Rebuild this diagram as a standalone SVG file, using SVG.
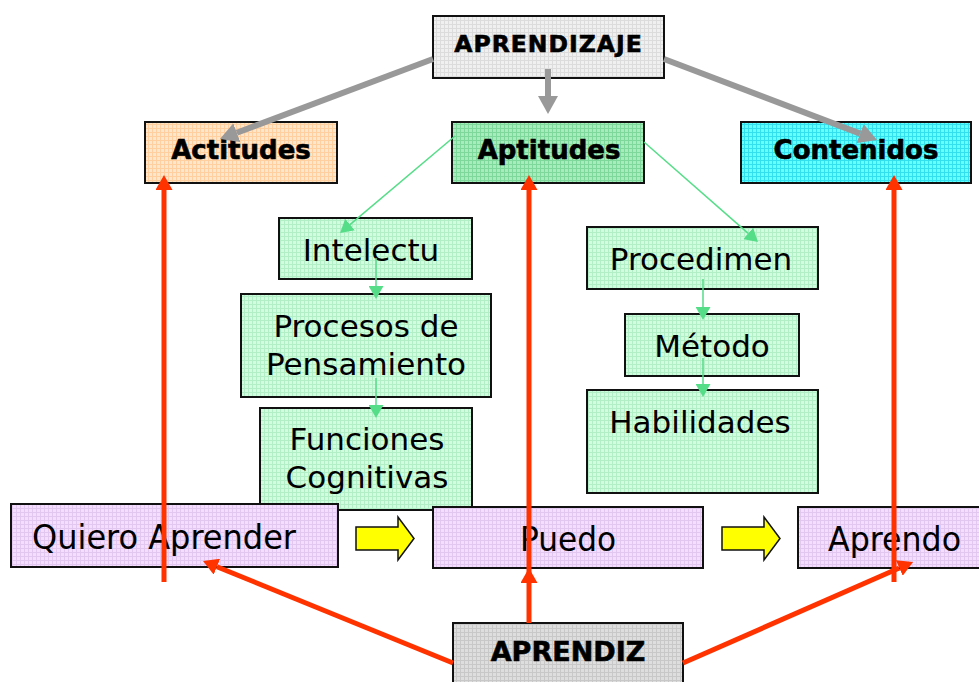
<svg xmlns="http://www.w3.org/2000/svg" width="979" height="682" viewBox="0 0 979 682">
<style>
.box{stroke:#111;stroke-width:2}
.bold{font-family:"DejaVu Sans","Liberation Sans",sans-serif;font-weight:bold;fill:#000;stroke:#000;stroke-width:0.6;text-anchor:middle}
.reg{font-family:"DejaVu Sans","Liberation Sans",sans-serif;font-size:31px;fill:#000;text-anchor:middle}
.cond{font-family:"DejaVu Sans Condensed","DejaVu Sans","Liberation Sans",sans-serif;font-size:34px;fill:#000}
.red{stroke:#FF3300;stroke-width:5;fill:none}
.gray{stroke:#999;stroke-width:6;fill:none}
.green{stroke:#55DD88;stroke-width:1.5;fill:none}
</style>
<defs>
<pattern id="pGray" width="4" height="4" patternUnits="userSpaceOnUse"><rect width="4" height="4" fill="#F0F0F0"/><path d="M0 .5H4M.5 0V4" stroke="#DCDCDC" stroke-width="1"/></pattern>
<pattern id="pGray2" width="4" height="4" patternUnits="userSpaceOnUse"><rect width="4" height="4" fill="#DEDEDE"/><path d="M0 .5H4M.5 0V4" stroke="#C8C8C8" stroke-width="1"/></pattern>
<pattern id="pPeach" width="4" height="4" patternUnits="userSpaceOnUse"><rect width="4" height="4" fill="#FFE6CC"/><path d="M0 .5H4M.5 0V4" stroke="#FFCFA0" stroke-width="1"/></pattern>
<pattern id="pGreen" width="4" height="4" patternUnits="userSpaceOnUse"><rect width="4" height="4" fill="#A6ECBC"/><path d="M0 .5H4M.5 0V4" stroke="#7ED89C" stroke-width="1"/></pattern>
<pattern id="pCyan" width="4" height="4" patternUnits="userSpaceOnUse"><rect width="4" height="4" fill="#66FFFF"/><path d="M0 .5H4M.5 0V4" stroke="#33E0EE" stroke-width="1"/></pattern>
<pattern id="pLight" width="4" height="4" patternUnits="userSpaceOnUse"><rect width="4" height="4" fill="#D2FCE0"/><path d="M0 .5H4M.5 0V4" stroke="#B2EEC6" stroke-width="1"/></pattern>
<pattern id="pPurple" width="4" height="4" patternUnits="userSpaceOnUse"><rect width="4" height="4" fill="#F4DEFF"/><path d="M0 .5H4M.5 0V4" stroke="#E2C8F0" stroke-width="1"/></pattern>
<marker id="mRed" markerUnits="userSpaceOnUse" viewBox="0 0 15 17" markerWidth="15" markerHeight="17" refX="0" refY="8.5" orient="auto"><path d="M0 0L15 8.5L0 17z" fill="#FF3300"/></marker>
<marker id="mGray" markerUnits="userSpaceOnUse" viewBox="0 0 18 20" markerWidth="18" markerHeight="20" refX="0" refY="10" orient="auto"><path d="M0 0L18 10L0 20z" fill="#999"/></marker>
<marker id="mGreen" markerUnits="userSpaceOnUse" viewBox="0 0 13 15" markerWidth="13" markerHeight="15" refX="0" refY="7.5" orient="auto"><path d="M0 0L13 7.5L0 15z" fill="#55DD88"/></marker>
</defs>
<rect width="979" height="682" fill="#fff"/>

<g id="aprendizaje"><rect class="box" x="433" y="16" width="231" height="62" fill="url(#pGray)"/><text class="bold" x="548.5" y="52" font-size="23.5" letter-spacing="1">APRENDIZAJE</text></g>
<g id="actitudes"><rect class="box" x="145" y="122" width="192" height="61" fill="url(#pPeach)"/><text class="bold" x="241" y="159" font-size="26">Actitudes</text></g>
<g id="aptitudes"><rect class="box" x="452" y="122" width="192" height="61" fill="url(#pGreen)"/><text class="bold" x="549" y="159" font-size="26">Aptitudes</text></g>
<g id="contenidos"><rect class="box" x="741" y="122" width="230" height="61" fill="url(#pCyan)"/><text class="bold" x="856" y="159" font-size="26">Contenidos</text></g>

<g id="intelectu"><rect class="box" x="279" y="218" width="193" height="61" fill="url(#pLight)"/><text class="reg" x="371" y="261">Intelectu</text></g>
<g id="procesos"><rect class="box" x="241" y="294" width="250" height="103" fill="url(#pLight)"/><text class="reg" x="366" y="337">Procesos de</text><text class="reg" x="366" y="375">Pensamiento</text></g>
<g id="funciones"><rect class="box" x="260" y="408" width="212" height="102" fill="url(#pLight)"/><text class="reg" x="367" y="450">Funciones</text><text class="reg" x="367" y="488">Cognitivas</text></g>
<g id="procedimen"><rect class="box" x="587" y="227" width="231" height="62" fill="url(#pLight)"/><text class="reg" x="701" y="270">Procedimen</text></g>
<g id="metodo"><rect class="box" x="625" y="314" width="174" height="62" fill="url(#pLight)"/><text class="reg" x="712" y="357">Método</text></g>
<g id="habilidades"><rect class="box" x="587" y="390" width="231" height="103" fill="url(#pLight)"/><text class="reg" x="700" y="433">Habilidades</text></g>

<g id="quiero"><rect class="box" x="11" y="504" width="327" height="63" fill="url(#pPurple)"/><text class="cond" x="32" y="549" textLength="264" lengthAdjust="spacingAndGlyphs">Quiero Aprender</text></g>
<g id="puedo"><rect class="box" x="433" y="507" width="270" height="61" fill="url(#pPurple)"/><text class="cond" x="520" y="551" textLength="96" lengthAdjust="spacingAndGlyphs">Puedo</text></g>
<g id="aprendo"><rect class="box" x="798" y="507" width="195" height="61" fill="url(#pPurple)"/><text class="cond" x="828" y="551" textLength="133" lengthAdjust="spacingAndGlyphs">Aprendo</text></g>
<g id="aprendiz"><rect class="box" x="453" y="623" width="230" height="70" fill="url(#pGray2)"/><text class="bold" x="568" y="661" font-size="27">APRENDIZ</text></g>

<g id="flechas-amarillas" fill="#FFFF00" stroke="#111" stroke-width="1.5">
<path d="M356 527H398V517L414 538.5L398 560V550H356Z"/>
<path d="M722 527H764V517L780 538.5L764 560V550H722Z"/>
</g>

<g id="connectors">
<line class="gray" x1="433" y1="59" x2="236.8" y2="132.7" marker-end="url(#mGray)"/>
<line class="gray" x1="548" y1="69" x2="548" y2="96" marker-end="url(#mGray)"/>
<line class="gray" x1="664" y1="59" x2="860.2" y2="133.6" marker-end="url(#mGray)"/>
<line class="green" x1="455" y1="136" x2="350" y2="224.6" marker-end="url(#mGreen)"/>
<line class="green" x1="644" y1="142" x2="748.2" y2="233.4" marker-end="url(#mGreen)"/>
<line class="green" x1="376" y1="258" x2="376" y2="286" marker-end="url(#mGreen)"/>
<line class="green" x1="376" y1="378" x2="376" y2="405" marker-end="url(#mGreen)"/>
<line class="green" x1="703" y1="279" x2="703" y2="307" marker-end="url(#mGreen)"/>
<line class="green" x1="703" y1="358" x2="703" y2="384" marker-end="url(#mGreen)"/>
<line class="red" x1="164" y1="582" x2="164" y2="190" marker-end="url(#mRed)"/>
<line class="red" x1="529" y1="582" x2="529" y2="190" marker-end="url(#mRed)"/>
<line class="red" x1="894" y1="582" x2="894" y2="190" marker-end="url(#mRed)"/>
<line class="red" x1="529" y1="623" x2="529" y2="583" marker-end="url(#mRed)"/>
<line class="red" x1="453" y1="663" x2="216.9" y2="566.7" marker-end="url(#mRed)"/>
<line class="red" x1="683" y1="663" x2="899.3" y2="568" marker-end="url(#mRed)"/>
</g>
</svg>
